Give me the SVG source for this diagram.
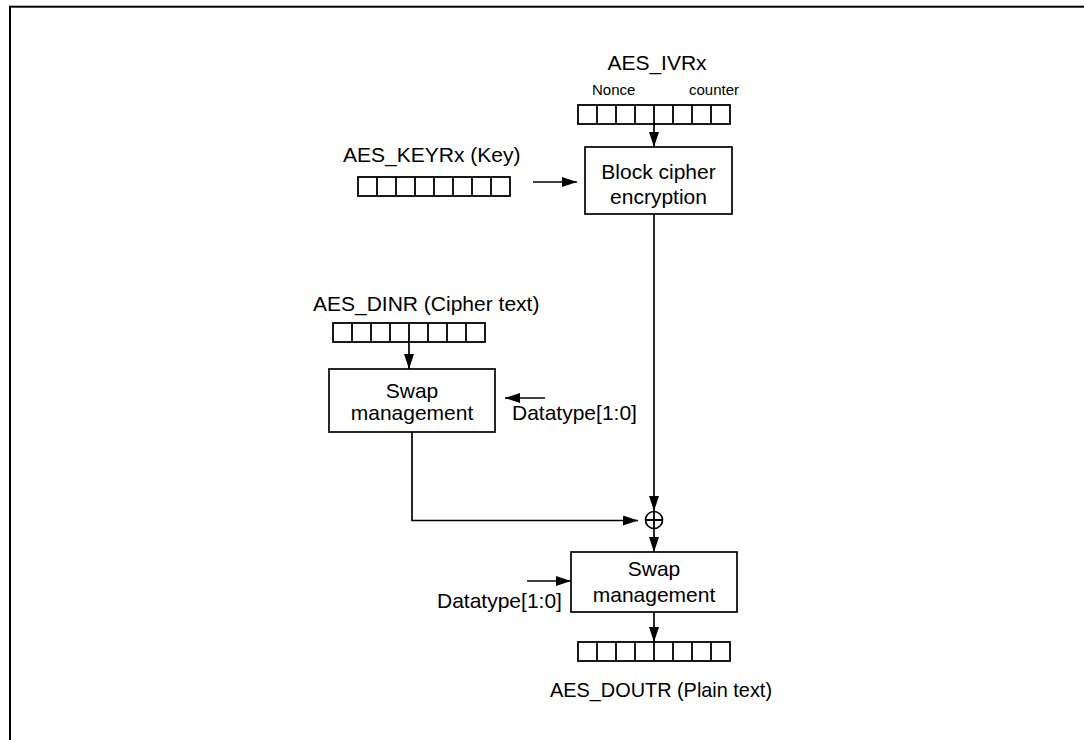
<svg xmlns="http://www.w3.org/2000/svg" width="1084" height="740" viewBox="0 0 1084 740">
<style>
text{font-family:"Liberation Sans",Arial,sans-serif;fill:#000}
.t{font-size:21px}
.s{font-size:15px}
.box{fill:#fff;stroke:#000;stroke-width:1.7}
.reg{fill:#fff;stroke:#000;stroke-width:1.8}
.cl{stroke:#000;stroke-width:1.8}
.c{fill:none;stroke:#000;stroke-width:1.7}
.ar{fill:none;stroke:#000;stroke-width:1.7;marker-end:url(#ah)}
</style>
<defs>
<marker id="ah" markerUnits="userSpaceOnUse" markerWidth="15" markerHeight="11" refX="15" refY="5" orient="auto">
<path d="M0,0 L15,5 L0,10 z" fill="#000"/>
</marker>
<g id="cells">
<path class="cl" d="M19,0V19M38,0V19M57,0V19M76,0V19M95,0V19M114,0V19M133,0V19"/>
</g>
</defs>
<rect x="10" y="6.7" width="1200" height="900" fill="none" stroke="#000" stroke-width="2"/>

<g id="ivr">
<text class="t" x="657" y="70" text-anchor="middle">AES_IVRx</text>
<text class="s" x="592" y="95">Nonce</text>
<text class="s" x="739" y="95" text-anchor="end">counter</text>
<rect class="reg" x="578" y="105" width="152" height="19"/>
<use href="#cells" x="578" y="105"/>
</g>

<g id="key">
<text class="t" x="343" y="162">AES_KEYRx (Key)</text>
<rect class="reg" x="358" y="177" width="152" height="19"/>
<use href="#cells" x="358" y="177"/>
</g>

<g id="block">
<rect class="box" x="585" y="147" width="147" height="67"/>
<text class="t" x="658.5" y="179" text-anchor="middle">Block cipher</text>
<text class="t" x="658.5" y="204" text-anchor="middle">encryption</text>
</g>

<g id="din">
<text class="t" x="313" y="311">AES_DINR (Cipher text)</text>
<rect class="reg" x="333" y="323" width="152" height="19"/>
<use href="#cells" x="333" y="323"/>
</g>

<g id="swap1">
<rect class="box" x="329" y="369" width="166" height="63"/>
<text class="t" x="412" y="398" text-anchor="middle">Swap</text>
<text class="t" x="412" y="420" text-anchor="middle">management</text>
</g>
<g id="dt1">
<text class="t" x="512" y="420">Datatype[1:0]</text>
</g>

<g id="xor">
<circle class="c" cx="654" cy="520" r="8.5"/>
<path class="cl" d="M645.5,520H662.5M654,511.5V528.5"/>
</g>

<g id="swap2">
<rect class="box" x="571" y="552" width="166" height="60"/>
<text class="t" x="654" y="576" text-anchor="middle">Swap</text>
<text class="t" x="654" y="602" text-anchor="middle">management</text>
</g>
<g id="dt2">
<text class="t" x="437" y="608">Datatype[1:0]</text>
</g>

<g id="dout">
<rect class="reg" x="578" y="642" width="152" height="19"/>
<use href="#cells" x="578" y="642"/>
<text class="t" x="550" y="697" textLength="222" lengthAdjust="spacingAndGlyphs">AES_DOUTR (Plain text)</text>
</g>

<g id="connectors">
<path class="ar" d="M654,124V147"/>
<path class="ar" d="M533,182H577"/>
<path class="ar" d="M654,214V511"/>
<path class="ar" d="M409,342V369"/>
<path class="ar" d="M545,398H505"/>
<path class="ar" d="M412,432V520.5H638"/>
<path class="ar" d="M654,528.5V552"/>
<path class="ar" d="M527,581H571"/>
<path class="ar" d="M654,612V642"/>
</g>
</svg>
